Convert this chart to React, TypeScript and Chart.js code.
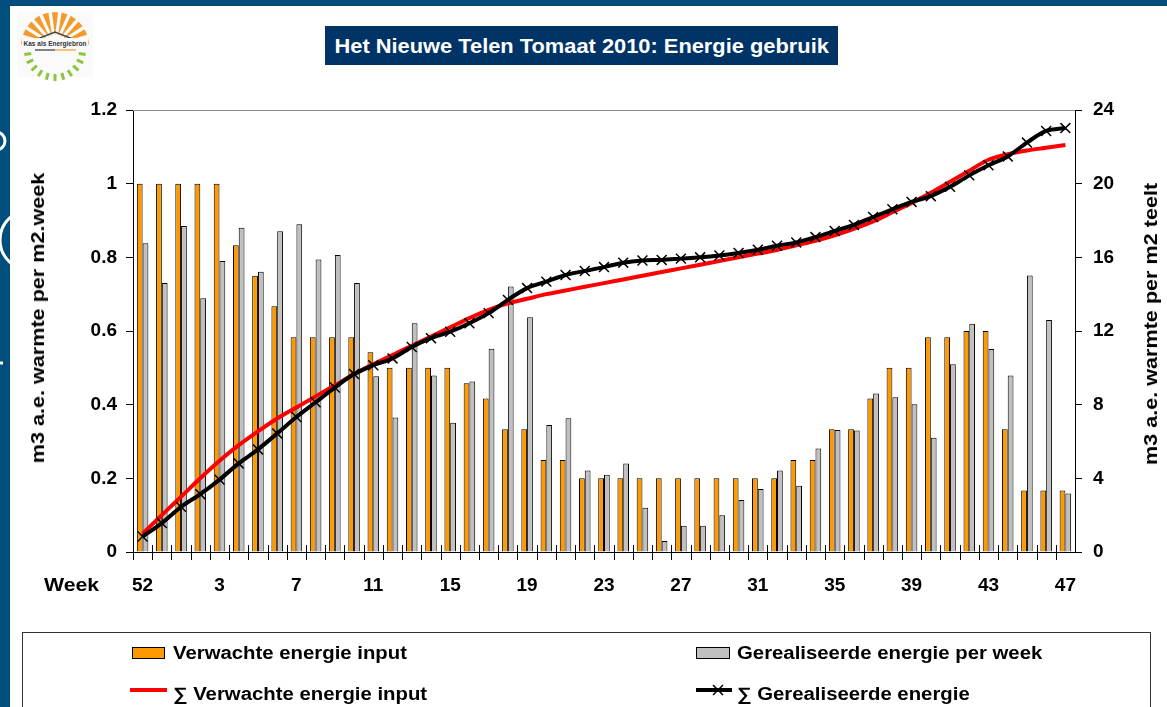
import React, { useEffect, useRef } from 'react';
import { Chart, registerables } from 'chart.js';

Chart.register(...registerables);

const chartTitle = 'Het Nieuwe Telen Tomaat 2010: Energie gebruik';
const leftAxisTitle = 'm3 a.e. warmte per m2.week';
const rightAxisTitle = 'm3 a.e. warmte per m2 teelt';
const xAxisCaption = 'Week';

const weeks = ['52', '53', '1', '2', '3', '4', '5', '6', '7', '8', '9', '10', '11', '12', '13', '14', '15', '16', '17', '18', '19', '20', '21', '22', '23', '24', '25', '26', '27', '28', '29', '30', '31', '32', '33', '34', '35', '36', '37', '38', '39', '40', '41', '42', '43', '44', '45', '46', '47'];

const expectedWeekly = [1, 1, 1, 1, 1, 0.833, 0.75, 0.667, 0.583, 0.583, 0.583, 0.583, 0.542, 0.5, 0.5, 0.5, 0.5, 0.458, 0.417, 0.333, 0.333, 0.25, 0.25, 0.2, 0.2, 0.2, 0.2, 0.2, 0.2, 0.2, 0.2, 0.2, 0.2, 0.2, 0.25, 0.25, 0.333, 0.333, 0.417, 0.5, 0.5, 0.583, 0.583, 0.6, 0.6, 0.333, 0.167, 0.167, 0.167];

const realisedWeekly = [0.838, 0.73, 0.885, 0.689, 0.79, 0.88, 0.761, 0.871, 0.89, 0.794, 0.806, 0.73, 0.477, 0.365, 0.621, 0.479, 0.351, 0.463, 0.552, 0.721, 0.637, 0.345, 0.363, 0.221, 0.21, 0.24, 0.12, 0.03, 0.071, 0.071, 0.1, 0.141, 0.171, 0.221, 0.18, 0.281, 0.331, 0.33, 0.43, 0.42, 0.401, 0.31, 0.51, 0.62, 0.551, 0.479, 0.751, 0.63, 0.159];

const expectedCumulative = [1.0, 2.0, 3.0, 4.0, 4.95, 5.8, 6.55, 7.25, 7.85, 8.45, 9.05, 9.65, 10.2, 10.7, 11.2, 11.7, 12.2, 12.7, 13.15, 13.5, 13.75, 14.0, 14.2, 14.4, 14.6, 14.8, 15.0, 15.2, 15.4, 15.6, 15.8, 16.0, 16.2, 16.4, 16.65, 16.9, 17.2, 17.55, 17.95, 18.45, 18.95, 19.5, 20.1, 20.7, 21.3, 21.6, 21.8, 21.95, 22.1];

const realisedCumulative = [0.84, 1.57, 2.45, 3.14, 3.93, 4.81, 5.57, 6.44, 7.33, 8.13, 8.93, 9.66, 10.14, 10.51, 11.13, 11.61, 11.96, 12.42, 12.97, 13.69, 14.33, 14.68, 15.04, 15.26, 15.47, 15.71, 15.83, 15.86, 15.93, 16.0, 16.1, 16.24, 16.41, 16.63, 16.81, 17.1, 17.43, 17.76, 18.19, 18.61, 19.01, 19.32, 19.83, 20.45, 21.0, 21.48, 22.23, 22.86, 23.02];

const seriesNames = ['Verwachte energie input', 'Gerealiseerde energie per week', '\u2211 Verwachte energie input', '\u2211 Gerealiseerde energie'];

const leftRange = { min: 0, max: 1.2, step: 0.2 };
const rightRange = { min: 0, max: 24, step: 4 };
const xLabelEvery = 4;

const FONT = '"Liberation Sans", Arial, sans-serif';
const ORANGE = '#FF9900';
const GREY = '#C0C0C0';
const FRAME = '#004E7C';

const decorPlugin = {
  id: 'decor',
  afterDraw(chart: any) {
    const { ctx, chartArea: a, scales } = chart;
    const xs = scales.x;
    ctx.save();
    ctx.strokeStyle = '#8a8a8a';
    ctx.lineWidth = 1;
    ctx.beginPath();
    ctx.moveTo(a.left, a.top + 0.5);
    ctx.lineTo(a.right, a.top + 0.5);
    ctx.stroke();
    ctx.strokeStyle = '#000';
    ctx.beginPath();
    const n = weeks.length;
    const half = (xs.getPixelForValue(1) - xs.getPixelForValue(0)) / 2;
    for (let i = 0; i < n; i++) {
      const px = Math.round(xs.getPixelForValue(i) - half) + 0.5;
      ctx.moveTo(px, a.bottom - 7);
      ctx.lineTo(px, a.bottom + 8);
    }
    ctx.stroke();
    ctx.restore();
  },
};

function Logo() {
  const cx = 55;
  const cy = 46;
  const rays: any[] = [];
  for (let k = 0; k < 11; k++) {
    const ang = Math.PI + (k + 0.5) * (Math.PI / 11);
    const a1 = ang - 0.09;
    const a2 = ang + 0.09;
    const r1 = 10;
    const r2 = 34;
    const pts = [
      [cx + r1 * Math.cos(ang), cy + r1 * Math.sin(ang)],
      [cx + r2 * Math.cos(a1), cy + r2 * Math.sin(a1)],
      [cx + r2 * Math.cos(a2), cy + r2 * Math.sin(a2)],
    ];
    rays.push(<polygon key={'o' + k} points={pts.map((p) => p.join(',')).join(' ')} fill="#F39A2B" />);
  }
  for (let k = 0; k < 11; k++) {
    const ang = (k + 0.5) * (Math.PI / 11);
    const r1 = 24;
    const r2 = 31;
    rays.push(
      <line
        key={'g' + k}
        x1={cx + r1 * Math.cos(ang)}
        y1={cy + 4 + r1 * Math.sin(ang)}
        x2={cx + r2 * Math.cos(ang)}
        y2={cy + 4 + r2 * Math.sin(ang)}
        stroke="#8CC63F"
        strokeWidth={3}
      />
    );
  }
  return (
    <svg width={110} height={90} style={{ position: 'absolute', left: 0, top: 0 }}>
      <rect x={17} y={12} width={76} height={65} fill="#fafafa" />
      {rays}
      <polyline points="22,45 55,32 88,45" fill="none" stroke="#444" strokeWidth={1.5} />
      <rect x={22} y={38} width={66} height={10} fill="#fafafa" />
      <text x={55} y={46} fontSize={6.5} fontFamily={FONT} fontWeight="bold" textAnchor="middle" fill="#333">
        Kas als Energiebron
      </text>
      <line x1={35} y1={50} x2={55} y2={50} stroke="#333" strokeWidth={1.2} />
      <line x1={55} y1={50} x2={76} y2={50} stroke="#F39A2B" strokeWidth={1.2} />
    </svg>
  );
}

function Frame() {
  return (
    <svg width={1167} height={707} style={{ position: 'absolute', left: 0, top: 0 }}>
      <defs>
        <clipPath id="band">
          <rect x={0} y={0} width={10} height={707} />
        </clipPath>
      </defs>
      <rect x={0} y={0} width={1167} height={6} fill={FRAME} />
      <rect x={0} y={0} width={10} height={707} fill={FRAME} />
      <g clipPath="url(#band)" fill="none" stroke="#fff" strokeWidth={3}>
        <circle cx={-4} cy={141} r={9} />
        <circle cx={30} cy={240} r={30} />
        <line x1={0} y1={363} x2={3} y2={363} />
      </g>
    </svg>
  );
}

export default function App() {
  const canvasRef = useRef<HTMLCanvasElement | null>(null);

  useEffect(() => {
    if (!canvasRef.current) return;
    const tickFont = { family: FONT, size: 19, weight: 'bold' as const };
    const chart = new Chart(canvasRef.current, {
      type: 'bar',
      data: {
        labels: weeks,
        datasets: [
          {
            type: 'bar',
            label: seriesNames[0],
            data: expectedWeekly,
            backgroundColor: ORANGE,
            borderColor: '#000',
            borderWidth: 1,
            categoryPercentage: 0.6,
            barPercentage: 1.0,
            yAxisID: 'y',
            order: 2,
          },
          {
            type: 'bar',
            label: seriesNames[1],
            data: realisedWeekly,
            backgroundColor: GREY,
            borderColor: '#000',
            borderWidth: 1,
            categoryPercentage: 0.6,
            barPercentage: 1.0,
            yAxisID: 'y',
            order: 2,
          },
          {
            type: 'line',
            label: seriesNames[2],
            data: expectedCumulative,
            borderColor: '#FF0000',
            borderWidth: 4,
            pointRadius: 0,
            cubicInterpolationMode: 'monotone',
            yAxisID: 'y2',
            order: 1,
          } as any,
          {
            type: 'line',
            label: seriesNames[3],
            data: realisedCumulative,
            borderColor: '#000',
            borderWidth: 4,
            pointStyle: 'crossRot',
            pointRadius: 7,
            pointBorderWidth: 1.5,
            pointBorderColor: '#000',
            pointBackgroundColor: '#000',
            cubicInterpolationMode: 'monotone',
            yAxisID: 'y2',
            order: 0,
          } as any,
        ],
      },
      options: {
        responsive: false,
        maintainAspectRatio: false,
        animation: false,
        devicePixelRatio: 1,
        layout: { padding: { top: 110, left: 0, right: 0, bottom: 0 } },
        plugins: {
          legend: { display: false },
          tooltip: { enabled: false },
          title: { display: false },
        },
        scales: {
          x: {
            type: 'category',
            offset: true,
            grid: { display: true, drawOnChartArea: false, drawTicks: false, color: '#000', offset: true },
            border: { display: true, color: '#000', width: 1 },
            ticks: {
              autoSkip: false,
              maxRotation: 0,
              minRotation: 0,
              padding: 22,
              color: '#000',
              font: tickFont,
              callback: (_v: any, i: number) => (i % xLabelEvery === 0 ? weeks[i] : ''),
            },
            afterFit: (s: any) => {
              s.height = 155;
            },
          },
          y: {
            type: 'linear',
            position: 'left',
            min: leftRange.min,
            max: leftRange.max,
            grid: { display: true, drawOnChartArea: false, drawTicks: true, tickLength: 7, color: '#000' },
            border: { display: true, color: '#000', width: 1 },
            ticks: {
              stepSize: leftRange.step,
              padding: 9,
              color: '#000',
              font: tickFont,
              callback: (v: any) => String(Number(Number(v).toFixed(1))),
            },
            afterFit: (s: any) => {
              s.width = 133;
            },
          },
          y2: {
            type: 'linear',
            position: 'right',
            min: rightRange.min,
            max: rightRange.max,
            grid: { display: true, drawOnChartArea: false, drawTicks: true, tickLength: 7, color: '#000' },
            border: { display: true, color: '#000', width: 1 },
            ticks: {
              stepSize: rightRange.step,
              padding: 11,
              color: '#000',
              font: tickFont,
            },
            afterFit: (s: any) => {
              s.width = 92;
            },
          },
        },
      },
      plugins: [decorPlugin],
    });
    return () => chart.destroy();
  }, []);

  const textStyle: React.CSSProperties = {
    position: 'absolute',
    fontFamily: FONT,
    fontWeight: 'bold',
    color: '#000',
    whiteSpace: 'nowrap',
    lineHeight: '1',
  };

  const legendText = (x: number, cy: number, t: string) => (
    <div style={{ ...textStyle, left: x, top: cy - 9, fontSize: 18, transform: 'scaleX(1.13)', transformOrigin: 'left center' }}>{t}</div>
  );

  return (
    <div style={{ position: 'fixed', left: 0, top: 0, width: 1167, height: 707, background: '#fff', overflow: 'hidden' }}>
      <Frame />
      <Logo />
      <div
        style={{
          position: 'absolute',
          left: 325,
          top: 26,
          width: 513,
          height: 39,
          background: '#003366',
          color: '#fff',
          fontFamily: FONT,
          fontWeight: 'bold',
          display: 'flex',
          alignItems: 'center',
          justifyContent: 'center',
          whiteSpace: 'nowrap',
        }}
      >
        <span style={{ fontSize: 21, display: 'inline-block', transform: 'scaleX(1.04)' }}>{chartTitle}</span>
      </div>
      <canvas ref={canvasRef} width={1167} height={707} style={{ position: 'absolute', left: 0, top: 0, width: 1167, height: 707 }} />
      <div style={{ ...textStyle, left: 44, top: 575, fontSize: 19, transform: 'scaleX(1.12)', transformOrigin: 'left center' }}>{xAxisCaption}</div>
      <div style={{ ...textStyle, left: 38, top: 318, fontSize: 18, transform: 'translate(-50%, -50%) rotate(-90deg) scaleX(1.2)' }}>{leftAxisTitle}</div>
      <div style={{ ...textStyle, left: 1151, top: 324, fontSize: 18, transform: 'translate(-50%, -50%) rotate(-90deg) scaleX(1.2)' }}>{rightAxisTitle}</div>
      <div style={{ position: 'absolute', left: 22, top: 632, width: 1129, height: 120, border: '1px solid #333', boxSizing: 'border-box' }} />
      <div style={{ position: 'absolute', left: 132, top: 647, width: 33, height: 12, background: ORANGE, border: '1px solid #000', boxSizing: 'border-box' }} />
      {legendText(173, 653, seriesNames[0])}
      <div style={{ position: 'absolute', left: 696, top: 647, width: 34, height: 12, background: GREY, border: '1px solid #000', boxSizing: 'border-box' }} />
      {legendText(737, 653, seriesNames[1])}
      <div style={{ position: 'absolute', left: 130, top: 688, width: 37, height: 4, background: '#FF0000' }} />
      {legendText(173, 694, seriesNames[2])}
      <div style={{ position: 'absolute', left: 696, top: 688, width: 36, height: 4, background: '#000' }} />
      <svg width={14} height={14} style={{ position: 'absolute', left: 711, top: 683 }}>
        <line x1={2} y1={2} x2={12} y2={12} stroke="#000" strokeWidth={1.5} />
        <line x1={12} y1={2} x2={2} y2={12} stroke="#000" strokeWidth={1.5} />
      </svg>
      {legendText(737, 694, seriesNames[3])}
    </div>
  );
}
